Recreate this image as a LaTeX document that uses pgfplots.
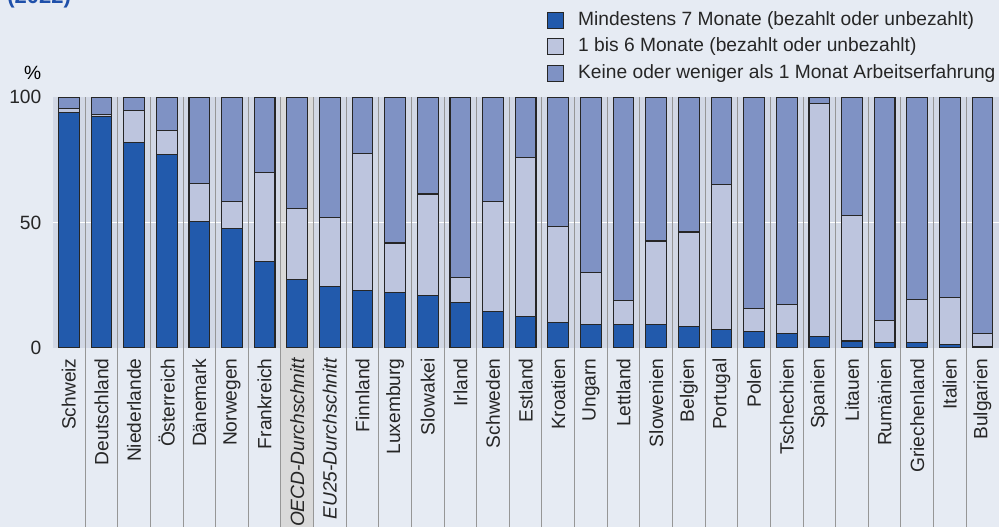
\documentclass[border=0pt]{standalone}
\usepackage{fontspec}
\setmainfont{Liberation Sans}
\usepackage{pgfplots}
\usepackage{pgfplotstable}
\pgfplotsset{compat=1.18}

\definecolor{figbg}{RGB}{230,235,243}
\definecolor{plotbg}{RGB}{210,216,229}
\definecolor{band}{RGB}{217,217,217}
\definecolor{sepgray}{RGB}{150,150,150}
\definecolor{cdark}{RGB}{34,90,172}
\definecolor{clight}{RGB}{189,197,222}
\definecolor{cmid}{RGB}{127,146,196}
\definecolor{titleblue}{RGB}{31,80,170}

% a = mindestens 7 Monate, b = 1 bis 6 Monate, c = keine / < 1 Monat
\pgfplotstableread{
x a b c
0 94.0 1.5 4.5
1 92.5 0.8 6.7
2 81.8 12.9 5.3
3 77.2 9.5 13.3
4 50.5 15.1 34.4
5 47.7 10.8 41.5
6 34.6 35.4 30.0
7 27.3 28.4 44.3
8 24.4 27.7 47.9
9 23.0 54.4 22.6
10 22.2 19.6 58.2
11 20.9 40.5 38.6
12 18.0 10.1 71.9
13 14.4 44.1 41.5
14 12.3 63.6 24.1
15 10.0 38.5 51.5
16 9.3 20.9 69.8
17 9.3 9.5 81.2
18 9.3 33.3 57.4
19 8.5 37.7 53.8
20 7.2 57.8 35.0
21 6.4 9.4 84.2
22 5.7 11.6 82.7
23 4.3 93.3 2.4
24 2.7 50.0 47.3
25 2.0 8.8 89.2
26 2.0 17.4 80.6
27 1.3 18.9 79.8
28 0.5 5.2 94.3
}\datatable

\pgfplotsset{
  frame/.style={
    at={(26.25pt,89.65pt)}, anchor=south west,
    scale only axis,
    width=473.15pt, height=125.2pt,
    xmin=-0.5, xmax=28.5,
    ymin=0, ymax=100,
    clip=false,
    axis line style={draw=none},
    major tick length=0pt,
  },
}

\begin{document}
\begin{tikzpicture}
\useasboundingbox (0,0) rectangle (499.5pt,263.5pt);
\fill[figbg] (0,0) rectangle (499.5pt,263.5pt);
\node[anchor=base west, inner sep=0pt, text=titleblue, font=\bfseries\fontsize{11}{13}\selectfont] at (3.5pt,262pt) {(2022)};
\node[anchor=east, inner sep=0pt, font=\fontsize{9.6}{11}\selectfont] at (20.85pt,226.85pt) {\%};

% background: plot area, highlighted OECD column, 50 line, separators
\begin{axis}[frame, axis background/.style={fill=plotbg}, xtick=\empty, ytick=\empty]
\fill[band] (axis cs:6.5,100) rectangle (axis cs:7.5,-71.6);
\draw[white, line width=0.8pt] (axis cs:-0.5,50) -- (axis cs:28.5,50);
\pgfplotsinvokeforeach{0,...,27}{
  \draw[sepgray, line width=0.5pt] (axis cs:#1+0.5,100) -- (axis cs:#1+0.5,-71.6);
}
\end{axis}

\begin{axis}[
    frame,
    ybar stacked, bar width=10.35pt,
    ytick={0,50,100},
    xtick={0,...,28},
    xticklabels={Schweiz, Deutschland, Niederlande, Österreich, Dänemark, Norwegen, Frankreich, {\itshape OECD-Durchschnitt}, {\itshape EU25-Durchschnitt}, Finnland, Luxemburg, Slowakei, Irland, Schweden, Estland, Kroatien, Ungarn, Lettland, Slowenien, Belgien, Portugal, Polen, Tschechien, Spanien, Litauen, Rumänien, Griechenland, Italien, Bulgarien},
    /pgf/number format/assume math mode=true,
    tick label style={font=\fontsize{9.6}{11}\selectfont, text=black!85},
    yticklabel style={anchor=east, inner xsep=5.4pt, inner ysep=0pt},
    xticklabel style={rotate=90, anchor=east, inner xsep=5.15pt, inner ysep=0pt},
    every axis plot/.append style={draw=black!85, line width=0.55pt},
    legend image code/.code={\draw[#1, draw=black!85, line width=0.55pt] (0pt,-4pt) rectangle (8pt,4pt);},
    legend style={at={(axis description cs:0.5222,1.3458)}, anchor=north west,
        draw=none, fill=none, inner sep=0pt, row sep=4.3pt, column sep=7pt,
        font=\fontsize{9.6}{11}\selectfont, text=black!85,
        nodes={inner sep=0pt, text height=7pt, text depth=2pt}},
    legend cell align=left,
]
\addplot[fill=cdark] table[x=x, y=a] {\datatable};
\addlegendentry{Mindestens 7 Monate (bezahlt oder unbezahlt)}
\addplot[fill=clight] table[x=x, y=b] {\datatable};
\addlegendentry{1 bis 6 Monate (bezahlt oder unbezahlt)}
\addplot[fill=cmid] table[x=x, y=c] {\datatable};
\addlegendentry{Keine oder weniger als 1 Monat Arbeitserfahrung}
\end{axis}
\end{tikzpicture}
\end{document}
